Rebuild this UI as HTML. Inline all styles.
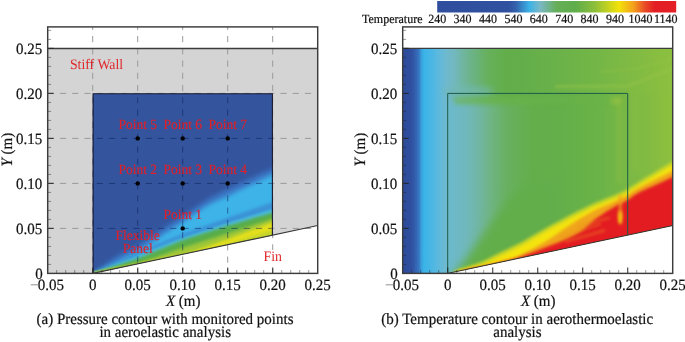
<!DOCTYPE html>
<html><head><meta charset="utf-8"><style>
html,body{margin:0;padding:0;background:#fff;}
svg{display:block;will-change:transform;}
text{font-family:"Liberation Serif",serif;text-rendering:geometricPrecision;}
text[fill="#111"]{stroke:#111;stroke-width:0.2px;}
</style></head><body>
<svg width="685" height="342" viewBox="0 0 685 342">
<defs><filter id="b1" filterUnits="userSpaceOnUse" x="0" y="0" width="685" height="342"><feGaussianBlur stdDeviation="1.0"/></filter><filter id="b15" filterUnits="userSpaceOnUse" x="0" y="0" width="685" height="342"><feGaussianBlur stdDeviation="1.5"/></filter><filter id="b2" filterUnits="userSpaceOnUse" x="0" y="0" width="685" height="342"><feGaussianBlur stdDeviation="2.0"/></filter><filter id="b3" filterUnits="userSpaceOnUse" x="0" y="0" width="685" height="342"><feGaussianBlur stdDeviation="3.0"/></filter><filter id="b5" filterUnits="userSpaceOnUse" x="0" y="0" width="685" height="342"><feGaussianBlur stdDeviation="5.0"/></filter><filter id="b8" filterUnits="userSpaceOnUse" x="0" y="0" width="685" height="342"><feGaussianBlur stdDeviation="8.0"/></filter><clipPath id="clipL"><polygon points="92.7,93.4 272.7,93.4 272.7,235.14 92.7,273.4"/></clipPath><clipPath id="clipR"><polygon points="402.7,48.4 672.7,48.4 672.7,225.57 447.7,273.4 402.7,273.4"/></clipPath><linearGradient id="hR" x1="402.7" y1="0" x2="672.7" y2="0" gradientUnits="userSpaceOnUse"><stop offset="0" stop-color="#2d4a9a"/><stop offset="0.03" stop-color="#2f4f9f"/><stop offset="0.04" stop-color="#3257a6"/><stop offset="0.06" stop-color="#3676c2"/><stop offset="0.07" stop-color="#3aa4de"/><stop offset="0.08" stop-color="#3bb4e8"/><stop offset="0.1" stop-color="#45b6e6"/><stop offset="0.13" stop-color="#5cb9de"/><stop offset="0.16" stop-color="#6eb9cf"/><stop offset="0.19" stop-color="#72b8c0"/><stop offset="0.22" stop-color="#70b6a2"/><stop offset="0.27" stop-color="#6ab27c"/><stop offset="0.32" stop-color="#66b05a"/><stop offset="0.38" stop-color="#63ae4b"/><stop offset="0.58" stop-color="#64af4a"/><stop offset="0.73" stop-color="#6ab348"/><stop offset="0.84" stop-color="#7ab845"/><stop offset="1" stop-color="#8ec03e"/></linearGradient><clipPath id="clipRin"><polygon points="447.7,93.4 672.7,93.4 672.7,225.57 447.7,273.4"/></clipPath><linearGradient id="tealG" x1="440" y1="0" x2="535" y2="0" gradientUnits="userSpaceOnUse"><stop offset="0" stop-color="#6cb9cc"/><stop offset="0.1" stop-color="#6cb9cc"/><stop offset="0.3" stop-color="#70b8bc" stop-opacity="0.95"/><stop offset="0.5" stop-color="#74b6a0" stop-opacity="0.7"/><stop offset="0.7" stop-color="#70b484" stop-opacity="0.4"/><stop offset="1" stop-color="#6cb270" stop-opacity="0"/></linearGradient><linearGradient id="topY" x1="520" y1="0" x2="672" y2="0" gradientUnits="userSpaceOnUse"><stop offset="0" stop-color="#84bc44" stop-opacity="0"/><stop offset="0.6" stop-color="#84bc44" stop-opacity="0.45"/><stop offset="1" stop-color="#8cc040" stop-opacity="0.3"/></linearGradient><clipPath id="cNB"><rect x="0" y="0" width="685" height="93.4"/><rect x="0" y="0" width="92.7" height="342"/><rect x="272.7" y="0" width="685" height="342"/><polygon points="92.7,273.4 272.7,235.14 272.7,342 92.7,342"/></clipPath><linearGradient id="cb" x1="0" y1="0" x2="1" y2="0"><stop offset="0" stop-color="#2f4f9e"/><stop offset="0.3" stop-color="#30519f"/><stop offset="0.33" stop-color="#3463ad"/><stop offset="0.385" stop-color="#3bb2e6"/><stop offset="0.43" stop-color="#7ab8c6"/><stop offset="0.5" stop-color="#66ae58"/><stop offset="0.58" stop-color="#5fad4a"/><stop offset="0.66" stop-color="#8dbf3a"/><stop offset="0.76" stop-color="#f2e20a"/><stop offset="0.82" stop-color="#f3a21c"/><stop offset="0.87" stop-color="#e84a26"/><stop offset="0.91" stop-color="#e31e24"/><stop offset="1" stop-color="#e31e24"/></linearGradient></defs>
<polygon points="47.7,48.4 317.7,48.4 317.7,225.57 92.7,273.4 47.7,273.4" fill="#d4d4d4"/>
<g clip-path="url(#clipL)"><rect x="92.7" y="93.4" width="180" height="180" fill="#34559e"/><polygon points="92.7,273.4 98.55,269.22 104.4,265.04 110.25,260.86 116.1,256.69 121.95,253.37 127.8,250.45 133.65,247.52 139.5,244.28 145.35,240.31 151.2,236.34 157.05,232.37 162.9,228.4 168.75,224.68 174.6,220.95 180.45,217.23 186.3,213.36 192.15,209.39 198,205.42 203.85,201.45 209.7,197.8 215.55,194.87 221.4,191.95 227.25,189.02 233.1,186.32 238.95,183.62 244.8,180.93 250.65,178.24 256.5,175.55 262.35,172.86 268.2,170.17 274.05,167.36 279.9,164.14 285.75,160.92 291.6,157.7 297.45,154.49 303.3,151.27 309.15,148.05 315,144.83 320.85,141.62 326.7,138.4 326.7,293.4 92.7,293.4" fill="#3a74c4" filter="url(#b2)"/><polygon points="92.7,273.4 98.55,270.68 104.4,267.97 110.25,265.25 116.1,262.54 121.95,259.67 127.8,256.75 133.65,253.82 139.5,250.58 145.35,246.61 151.2,242.64 157.05,238.67 162.9,234.7 168.75,230.98 174.6,227.25 180.45,223.53 186.3,219.66 192.15,215.69 198,211.72 203.85,207.75 209.7,204.18 215.55,201.52 221.4,198.86 227.25,196.2 233.1,193.41 238.95,190.6 244.8,187.79 250.65,184.98 256.5,182.18 262.35,179.37 268.2,176.56 274.05,173.68 279.9,170.56 285.75,167.44 291.6,164.32 297.45,161.2 303.3,158.08 309.15,154.96 315,151.84 320.85,148.72 326.7,145.6 326.7,293.4 92.7,293.4" fill="#3cb3e8" filter="url(#b2)"/><polygon points="119.7,260.44 124.88,257.96 130.05,255.47 135.22,252.99 140.4,250.72 145.57,248.65 150.75,246.58 155.93,244.51 161.1,242.44 166.28,240.37 171.45,238.3 176.62,236.23 181.8,234.16 186.98,232.28 192.15,230.44 197.32,228.59 202.5,226.75 207.68,224.91 212.85,223.07 218.02,221.22 223.2,219.38 228.38,217.55 233.55,215.76 238.73,213.97 243.9,212.17 249.07,210.38 254.25,208.59 259.43,206.8 264.6,205.01 269.78,203.22 274.95,201.43 280.12,199.62 285.3,197.82 290.48,196.02 295.65,194.22 300.82,192.41 306,190.61 311.18,188.81 316.35,187.01 321.52,185.2 326.7,183.4 326.7,190.6 321.52,192.39 316.35,194.17 311.18,195.96 306,197.74 300.82,199.53 295.65,201.31 290.48,203.1 285.3,204.88 280.12,206.67 274.95,208.45 269.78,210.17 264.6,211.84 259.43,213.5 254.25,215.17 249.07,216.84 243.9,218.5 238.73,220.17 233.55,221.84 228.38,223.5 223.2,225.15 218.02,226.8 212.85,228.44 207.68,230.09 202.5,231.73 197.32,233.38 192.15,235.02 186.98,236.67 181.8,238.38 176.62,240.37 171.45,242.37 166.28,244.37 161.1,246.37 155.93,248.37 150.75,250.36 145.57,252.36 140.4,254.36 135.22,256.39 130.05,258.46 124.88,260.53 119.7,262.6" fill="#3a92d6" filter="url(#b15)"/><polygon points="92.7,273.4 98.55,271.24 104.4,269.07 110.25,266.91 116.1,264.74 121.95,262.58 127.8,260.41 133.65,258.25 139.5,256.01 145.35,253.61 151.2,251.21 157.05,248.82 162.9,246.42 168.75,244.02 174.6,241.62 180.45,239.22 186.3,237.11 192.15,235.18 198,233.25 203.85,231.32 209.7,229.39 215.55,227.46 221.4,225.53 227.25,223.6 233.1,221.83 238.95,220.07 244.8,218.32 250.65,216.56 256.5,214.81 262.35,213.05 268.2,211.3 274.05,209.49 279.9,207.49 285.75,205.49 291.6,203.49 297.45,201.49 303.3,199.5 309.15,197.5 315,195.5 320.85,193.5 326.7,191.5 326.7,293.4 92.7,293.4" fill="#4cbadc" filter="url(#b1)"/><polygon points="92.7,273.4 98.55,271.47 104.4,269.54 110.25,267.61 116.1,265.68 121.95,263.75 127.8,261.82 133.65,259.89 139.5,257.81 145.35,255.41 151.2,253.01 157.05,250.62 162.9,248.22 168.75,245.82 174.6,243.42 180.45,241.02 186.3,238.95 192.15,237.08 198,235.2 203.85,233.33 209.7,231.46 215.55,229.59 221.4,227.72 227.25,225.84 233.1,224.13 238.95,222.44 244.8,220.74 250.65,219.04 256.5,217.35 262.35,215.65 268.2,213.95 274.05,212.21 279.9,210.31 285.75,208.41 291.6,206.51 297.45,204.61 303.3,202.7 309.15,200.8 315,198.9 320.85,197 326.7,195.1 326.7,293.4 92.7,293.4" fill="#58ad48" filter="url(#b15)"/><polygon points="92.7,273.4 98.55,272.16 104.4,270.92 110.25,269.68 116.1,268.44 121.95,267.2 127.8,265.96 133.65,264.72 139.5,263.21 145.35,261.11 151.2,259 157.05,256.89 162.9,254.79 168.75,252.68 174.6,250.58 180.45,248.47 186.3,246.52 192.15,244.65 198,242.79 203.85,240.93 209.7,239.07 215.55,237.21 221.4,235.35 227.25,233.49 233.1,231.57 238.95,229.64 244.8,227.71 250.65,225.78 256.5,223.85 262.35,221.92 268.2,219.98 274.05,218.07 279.9,216.22 285.75,214.37 291.6,212.51 297.45,210.66 303.3,208.81 309.15,206.96 315,205.1 320.85,203.25 326.7,201.4 326.7,293.4 92.7,293.4" fill="#9ec637" filter="url(#b15)"/><polygon points="92.7,273.4 98.55,272.2 104.4,271 110.25,269.8 116.1,268.6 121.95,267.4 127.8,266.2 133.65,265.01 139.5,263.81 145.35,262.61 151.2,261.41 157.05,260.21 162.9,259.01 168.75,257.81 174.6,256.61 180.45,255.41 186.3,253.69 192.15,251.64 198,249.59 203.85,247.55 209.7,245.5 215.55,243.45 221.4,241.34 227.25,239.14 233.1,236.95 238.95,234.76 244.8,232.56 250.65,230.37 256.5,228.17 262.35,225.98 268.2,223.79 274.05,221.69 279.9,219.94 285.75,218.18 291.6,216.43 297.45,214.67 303.3,212.92 309.15,211.16 315,209.41 320.85,207.65 326.7,205.9 326.7,293.4 92.7,293.4" fill="#e4df1c" filter="url(#b15)"/><polygon points="92.7,273.4 98.55,272.17 104.4,270.93 110.25,269.7 116.1,268.47 121.95,267.24 127.8,266 133.65,264.77 139.5,263.54 145.35,262.31 151.2,261.07 157.05,259.84 162.9,258.61 168.75,257.38 174.6,256.14 180.45,254.91 186.3,253.68 192.15,252.44 198,251.21 203.85,249.98 209.7,248.75 215.55,247.51 221.4,245.99 227.25,244.14 233.1,242.29 238.95,240.44 244.8,238.58 250.65,236.73 256.5,234.88 262.35,233.03 268.2,231.17 274.05,229.4 279.9,227.89 285.75,226.38 291.6,224.87 297.45,223.36 303.3,221.84 309.15,220.33 315,218.82 320.85,217.31 326.7,215.8 326.7,293.4 92.7,293.4" fill="#c4d42a" filter="url(#b15)"/></g>
<g clip-path="url(#clipR)"><rect x="402.7" y="48.4" width="270" height="225" fill="url(#hR)"/><ellipse cx="468" cy="91" rx="26" ry="5" fill="#72b8b4" opacity="0.7" filter="url(#b3)"/><rect x="520" y="48.4" width="160" height="45" fill="url(#topY)"/><polyline points="555,86.5 628,86 648,78 675,68" fill="none" stroke="#96c448" stroke-width="3" opacity="0.55" filter="url(#b15)"/><polyline points="600,72 640,68 675,58" fill="none" stroke="#96c448" stroke-width="2.5" opacity="0.35" filter="url(#b15)"/><rect x="632" y="92" width="6" height="80" fill="#96c444" opacity="0.35" filter="url(#b3)"/><g clip-path="url(#clipRin)"><rect x="420" y="102.4" width="110" height="180" fill="url(#tealG)" filter="url(#b3)"/><polygon points="449,282 455,273 468,256 482,236 495,218 508,200 530,180 560,180 560,282" fill="#62ae4b" filter="url(#b5)"/><polygon points="452,97 560,97 622,97 622,104 560,104 456,104.5" fill="#6ab548" opacity="0.55" filter="url(#b2)"/><ellipse cx="616" cy="101" rx="6" ry="4" fill="#a8c840" opacity="0.5" filter="url(#b2)"/><rect x="617" y="98" width="4" height="85" fill="#94c242" opacity="0.45" filter="url(#b2)"/></g><polygon points="453.1,271.55 459.04,269.52 464.98,267.49 470.92,265.46 476.86,263.42 482.8,261.24 488.74,258.19 494.68,255.13 500.62,252.27 506.56,249.43 512.5,246.58 518.44,243.73 524.38,240.56 530.32,237.08 536.26,233.61 542.2,230.13 548.14,226.73 554.08,223.56 560.02,220.4 565.96,217.23 571.9,214.06 577.84,211.09 583.78,208.21 589.72,205.33 595.66,202.5 601.6,200.13 607.54,197.76 613.48,195.38 619.42,192.97 625.36,190.22 631.3,186.46 637.24,182.63 643.18,179.06 649.12,175.5 655.06,171.93 661,168.37 666.94,164.81 672.88,161.25 678.82,157.98 684.76,154.72 690.7,151.45 690.7,293.4 453.1,293.4" fill="#c4d42a" filter="url(#b15)"/><polygon points="458.5,270.84 464.31,269.47 470.11,268.09 475.91,266.72 481.72,265.34 487.52,262.41 493.33,259.43 499.13,256.59 504.94,253.8 510.75,251.02 516.55,248.24 522.36,245.34 528.16,241.95 533.97,238.55 539.77,235.15 545.58,231.76 551.38,228.6 557.18,225.51 562.99,222.41 568.79,219.32 574.6,216.26 580.4,213.45 586.21,210.63 592.01,207.81 597.82,205.24 603.62,202.92 609.43,200.6 615.24,198.28 621.04,195.82 626.85,192.96 632.65,189.18 638.46,185.5 644.26,182.01 650.07,178.53 655.87,175.05 661.68,171.56 667.48,168.08 673.28,164.63 679.09,161.44 684.89,158.24 690.7,155.05 690.7,293.4 458.5,293.4" fill="#f4e30b" filter="url(#b15)"/><polygon points="458.5,270.98 464.31,269.69 470.11,268.39 475.91,267.09 481.72,265.79 487.52,264.38 493.33,262.97 499.13,261.56 504.94,260.15 510.75,258.73 516.55,256.95 522.36,253.93 528.16,250.91 533.97,247.89 539.77,244.81 545.58,241.62 551.38,237.72 557.18,233.66 562.99,229.6 568.79,225.75 574.6,221.99 580.4,218.27 586.21,214.97 592.01,211.67 597.82,208.73 603.62,206.19 609.43,203.65 615.24,201.12 621.04,198.43 626.85,195.37 632.65,191.5 638.46,187.92 644.26,185.02 650.07,182.12 655.87,179.21 661.68,176.31 667.48,173.41 673.28,170.48 679.09,167.29 684.89,164.09 690.7,160.9 690.7,293.4 458.5,293.4" fill="#f0a51c" filter="url(#b15)"/><polygon points="465.7,270.32 471.32,269.36 476.95,268.4 482.57,267.39 488.2,266.04 493.82,264.69 499.45,263.22 505.07,261.71 510.7,260.21 516.33,258.57 521.95,256.43 527.58,254.3 533.2,252.16 538.83,250 544.45,247.75 550.08,245.61 555.7,243.55 561.33,241.37 566.95,238.75 572.57,236.12 578.2,232.9 583.83,229.21 589.45,224.29 595.07,219.37 600.7,215.39 606.33,211.52 611.95,208.15 617.58,204.77 623.2,202.41 628.83,199.21 634.45,194.99 640.08,191.78 645.7,189.25 651.32,186.72 656.95,184.19 662.58,181.66 668.2,179.12 673.83,176.54 679.45,173.72 685.08,170.91 690.7,168.1 690.7,293.4 465.7,293.4" fill="#e31e24" filter="url(#b15)"/><line x1="560.2" y1="237.4" x2="600.7" y2="223.9" stroke="#ee8a20" stroke-width="2.5" opacity="0.45" filter="url(#b15)"/><line x1="564.7" y1="241.9" x2="605.2" y2="230.2" stroke="#ee8a20" stroke-width="2.5" opacity="0.45" filter="url(#b15)"/><line x1="578.2" y1="226.6" x2="609.7" y2="217.6" stroke="#ee8a20" stroke-width="2.5" opacity="0.45" filter="url(#b15)"/><ellipse cx="620.23" cy="217.6" rx="2.2" ry="7" fill="#f6d20e" filter="url(#b15)"/><rect x="618.73" y="195.1" width="3" height="22" fill="#f0a01c" opacity="0.8" filter="url(#b15)"/></g>
<g clip-path="url(#cNB)" stroke="#9a9a9a" stroke-width="1"><line x1="92.7" y1="26.9" x2="92.7" y2="273.4" stroke-dasharray="6.2 6.05" stroke-dashoffset="3.15"/><line x1="137.7" y1="26.9" x2="137.7" y2="273.4" stroke-dasharray="6.2 6.05" stroke-dashoffset="3.15"/><line x1="182.7" y1="26.9" x2="182.7" y2="273.4" stroke-dasharray="6.2 6.05" stroke-dashoffset="3.15"/><line x1="227.7" y1="26.9" x2="227.7" y2="273.4" stroke-dasharray="6.2 6.05" stroke-dashoffset="3.15"/><line x1="272.7" y1="26.9" x2="272.7" y2="273.4" stroke-dasharray="6.2 6.05" stroke-dashoffset="3.15"/><line x1="47.7" y1="228.4" x2="317.7" y2="228.4" stroke-dasharray="6.2 6.05"/><line x1="47.7" y1="183.4" x2="317.7" y2="183.4" stroke-dasharray="6.2 6.05"/><line x1="47.7" y1="138.4" x2="317.7" y2="138.4" stroke-dasharray="6.2 6.05"/><line x1="47.7" y1="93.4" x2="317.7" y2="93.4" stroke-dasharray="6.2 6.05"/></g>
<g clip-path="url(#clipL)" stroke="#0a1850" stroke-width="1" stroke-opacity="0.5"><line x1="92.7" y1="26.9" x2="92.7" y2="273.4" stroke-dasharray="6.2 6.05" stroke-dashoffset="3.15"/><line x1="137.7" y1="26.9" x2="137.7" y2="273.4" stroke-dasharray="6.2 6.05" stroke-dashoffset="3.15"/><line x1="182.7" y1="26.9" x2="182.7" y2="273.4" stroke-dasharray="6.2 6.05" stroke-dashoffset="3.15"/><line x1="227.7" y1="26.9" x2="227.7" y2="273.4" stroke-dasharray="6.2 6.05" stroke-dashoffset="3.15"/><line x1="272.7" y1="26.9" x2="272.7" y2="273.4" stroke-dasharray="6.2 6.05" stroke-dashoffset="3.15"/><line x1="47.7" y1="228.4" x2="317.7" y2="228.4" stroke-dasharray="6.2 6.05"/><line x1="47.7" y1="183.4" x2="317.7" y2="183.4" stroke-dasharray="6.2 6.05"/><line x1="47.7" y1="138.4" x2="317.7" y2="138.4" stroke-dasharray="6.2 6.05"/><line x1="47.7" y1="93.4" x2="317.7" y2="93.4" stroke-dasharray="6.2 6.05"/></g>
<line x1="47.7" y1="48.4" x2="317.7" y2="48.4" stroke="#3c3c3c" stroke-width="1.5"/>
<polyline points="93.1,273.4 93.1,93.7 272.4,93.7 272.4,235.14" fill="none" stroke="#1a1a30" stroke-width="1.1"/>
<line x1="92.7" y1="273.4" x2="317.7" y2="225.57" stroke="#3a3a3a" stroke-width="1.1"/>
<line x1="56.7" y1="273.4" x2="56.7" y2="270" stroke="#222" stroke-width="1" stroke-opacity="0.45"/>
<line x1="65.7" y1="273.4" x2="65.7" y2="270" stroke="#222" stroke-width="1" stroke-opacity="0.45"/>
<line x1="74.7" y1="273.4" x2="74.7" y2="270" stroke="#222" stroke-width="1" stroke-opacity="0.45"/>
<line x1="83.7" y1="273.4" x2="83.7" y2="270" stroke="#222" stroke-width="1" stroke-opacity="0.45"/>
<line x1="92.7" y1="273.4" x2="92.7" y2="267.4" stroke="#222" stroke-width="1.2" stroke-opacity="0.8"/>
<line x1="101.7" y1="273.4" x2="101.7" y2="270" stroke="#222" stroke-width="1" stroke-opacity="0.45"/>
<line x1="110.7" y1="273.4" x2="110.7" y2="270" stroke="#222" stroke-width="1" stroke-opacity="0.45"/>
<line x1="119.7" y1="273.4" x2="119.7" y2="270" stroke="#222" stroke-width="1" stroke-opacity="0.45"/>
<line x1="128.7" y1="273.4" x2="128.7" y2="270" stroke="#222" stroke-width="1" stroke-opacity="0.45"/>
<line x1="137.7" y1="273.4" x2="137.7" y2="267.4" stroke="#222" stroke-width="1.2" stroke-opacity="0.8"/>
<line x1="146.7" y1="273.4" x2="146.7" y2="270" stroke="#222" stroke-width="1" stroke-opacity="0.45"/>
<line x1="155.7" y1="273.4" x2="155.7" y2="270" stroke="#222" stroke-width="1" stroke-opacity="0.45"/>
<line x1="164.7" y1="273.4" x2="164.7" y2="270" stroke="#222" stroke-width="1" stroke-opacity="0.45"/>
<line x1="173.7" y1="273.4" x2="173.7" y2="270" stroke="#222" stroke-width="1" stroke-opacity="0.45"/>
<line x1="182.7" y1="273.4" x2="182.7" y2="267.4" stroke="#222" stroke-width="1.2" stroke-opacity="0.8"/>
<line x1="191.7" y1="273.4" x2="191.7" y2="270" stroke="#222" stroke-width="1" stroke-opacity="0.45"/>
<line x1="200.7" y1="273.4" x2="200.7" y2="270" stroke="#222" stroke-width="1" stroke-opacity="0.45"/>
<line x1="209.7" y1="273.4" x2="209.7" y2="270" stroke="#222" stroke-width="1" stroke-opacity="0.45"/>
<line x1="218.7" y1="273.4" x2="218.7" y2="270" stroke="#222" stroke-width="1" stroke-opacity="0.45"/>
<line x1="227.7" y1="273.4" x2="227.7" y2="267.4" stroke="#222" stroke-width="1.2" stroke-opacity="0.8"/>
<line x1="236.7" y1="273.4" x2="236.7" y2="270" stroke="#222" stroke-width="1" stroke-opacity="0.45"/>
<line x1="245.7" y1="273.4" x2="245.7" y2="270" stroke="#222" stroke-width="1" stroke-opacity="0.45"/>
<line x1="254.7" y1="273.4" x2="254.7" y2="270" stroke="#222" stroke-width="1" stroke-opacity="0.45"/>
<line x1="263.7" y1="273.4" x2="263.7" y2="270" stroke="#222" stroke-width="1" stroke-opacity="0.45"/>
<line x1="272.7" y1="273.4" x2="272.7" y2="267.4" stroke="#222" stroke-width="1.2" stroke-opacity="0.8"/>
<line x1="281.7" y1="273.4" x2="281.7" y2="270" stroke="#222" stroke-width="1" stroke-opacity="0.45"/>
<line x1="290.7" y1="273.4" x2="290.7" y2="270" stroke="#222" stroke-width="1" stroke-opacity="0.45"/>
<line x1="299.7" y1="273.4" x2="299.7" y2="270" stroke="#222" stroke-width="1" stroke-opacity="0.45"/>
<line x1="308.7" y1="273.4" x2="308.7" y2="270" stroke="#222" stroke-width="1" stroke-opacity="0.45"/>
<line x1="47.7" y1="264.4" x2="51.1" y2="264.4" stroke="#222" stroke-width="1" stroke-opacity="0.45"/>
<line x1="47.7" y1="255.4" x2="51.1" y2="255.4" stroke="#222" stroke-width="1" stroke-opacity="0.45"/>
<line x1="47.7" y1="246.4" x2="51.1" y2="246.4" stroke="#222" stroke-width="1" stroke-opacity="0.45"/>
<line x1="47.7" y1="237.4" x2="51.1" y2="237.4" stroke="#222" stroke-width="1" stroke-opacity="0.45"/>
<line x1="47.7" y1="228.4" x2="53.7" y2="228.4" stroke="#222" stroke-width="1.2" stroke-opacity="0.8"/>
<line x1="47.7" y1="219.4" x2="51.1" y2="219.4" stroke="#222" stroke-width="1" stroke-opacity="0.45"/>
<line x1="47.7" y1="210.4" x2="51.1" y2="210.4" stroke="#222" stroke-width="1" stroke-opacity="0.45"/>
<line x1="47.7" y1="201.4" x2="51.1" y2="201.4" stroke="#222" stroke-width="1" stroke-opacity="0.45"/>
<line x1="47.7" y1="192.4" x2="51.1" y2="192.4" stroke="#222" stroke-width="1" stroke-opacity="0.45"/>
<line x1="47.7" y1="183.4" x2="53.7" y2="183.4" stroke="#222" stroke-width="1.2" stroke-opacity="0.8"/>
<line x1="47.7" y1="174.4" x2="51.1" y2="174.4" stroke="#222" stroke-width="1" stroke-opacity="0.45"/>
<line x1="47.7" y1="165.4" x2="51.1" y2="165.4" stroke="#222" stroke-width="1" stroke-opacity="0.45"/>
<line x1="47.7" y1="156.4" x2="51.1" y2="156.4" stroke="#222" stroke-width="1" stroke-opacity="0.45"/>
<line x1="47.7" y1="147.4" x2="51.1" y2="147.4" stroke="#222" stroke-width="1" stroke-opacity="0.45"/>
<line x1="47.7" y1="138.4" x2="53.7" y2="138.4" stroke="#222" stroke-width="1.2" stroke-opacity="0.8"/>
<line x1="47.7" y1="129.4" x2="51.1" y2="129.4" stroke="#222" stroke-width="1" stroke-opacity="0.45"/>
<line x1="47.7" y1="120.4" x2="51.1" y2="120.4" stroke="#222" stroke-width="1" stroke-opacity="0.45"/>
<line x1="47.7" y1="111.4" x2="51.1" y2="111.4" stroke="#222" stroke-width="1" stroke-opacity="0.45"/>
<line x1="47.7" y1="102.4" x2="51.1" y2="102.4" stroke="#222" stroke-width="1" stroke-opacity="0.45"/>
<line x1="47.7" y1="93.4" x2="53.7" y2="93.4" stroke="#222" stroke-width="1.2" stroke-opacity="0.8"/>
<line x1="47.7" y1="84.4" x2="51.1" y2="84.4" stroke="#222" stroke-width="1" stroke-opacity="0.45"/>
<line x1="47.7" y1="75.4" x2="51.1" y2="75.4" stroke="#222" stroke-width="1" stroke-opacity="0.45"/>
<line x1="47.7" y1="66.4" x2="51.1" y2="66.4" stroke="#222" stroke-width="1" stroke-opacity="0.45"/>
<line x1="47.7" y1="57.4" x2="51.1" y2="57.4" stroke="#222" stroke-width="1" stroke-opacity="0.45"/>
<line x1="47.7" y1="48.4" x2="53.7" y2="48.4" stroke="#222" stroke-width="1.2" stroke-opacity="0.8"/>
<line x1="47.7" y1="39.4" x2="51.1" y2="39.4" stroke="#222" stroke-width="1" stroke-opacity="0.45"/>
<line x1="47.7" y1="30.4" x2="51.1" y2="30.4" stroke="#222" stroke-width="1" stroke-opacity="0.45"/>
<rect x="47.7" y="26.9" width="270" height="246.5" fill="none" stroke="#3c3c3c" stroke-width="1.45"/>
<text transform="translate(37.8,290) scale(1,1.05)" font-size="15" text-anchor="start" fill="#111">0.05</text>
<line x1="30.7" y1="284.8" x2="38.5" y2="284.8" stroke="#9a9a9a" stroke-width="1.1"/>
<text transform="translate(92.7,290) scale(1,1.05)" font-size="15" text-anchor="middle" fill="#111">0</text>
<text transform="translate(137.7,290) scale(1,1.05)" font-size="15" text-anchor="middle" fill="#111">0.05</text>
<text transform="translate(182.7,290) scale(1,1.05)" font-size="15" text-anchor="middle" fill="#111">0.10</text>
<text transform="translate(227.7,290) scale(1,1.05)" font-size="15" text-anchor="middle" fill="#111">0.15</text>
<text transform="translate(272.7,290) scale(1,1.05)" font-size="15" text-anchor="middle" fill="#111">0.20</text>
<text transform="translate(317.7,290) scale(1,1.05)" font-size="15" text-anchor="middle" fill="#111">0.25</text>
<text transform="translate(42.2,233.6) scale(1,1.05)" font-size="15" text-anchor="end" fill="#111">0.05</text>
<text transform="translate(42.2,188.6) scale(1,1.05)" font-size="15" text-anchor="end" fill="#111">0.10</text>
<text transform="translate(42.2,143.6) scale(1,1.05)" font-size="15" text-anchor="end" fill="#111">0.15</text>
<text transform="translate(42.2,98.6) scale(1,1.05)" font-size="15" text-anchor="end" fill="#111">0.20</text>
<text transform="translate(42.2,53.6) scale(1,1.05)" font-size="15" text-anchor="end" fill="#111">0.25</text>
<text transform="translate(42.7,278.9) scale(1,1.05)" font-size="15" text-anchor="end" fill="#111">0</text>
<text transform="translate(183.2,305.6) scale(1,1.05)" font-size="15" text-anchor="middle" fill="#111"><tspan font-style="italic">X</tspan> (m)</text>
<text x="0" y="0" font-size="15" text-anchor="middle" fill="#111" transform="translate(12.2,149.7) rotate(-90) scale(1,1.05)"><tspan font-style="italic">Y</tspan> (m)</text>
<circle cx="137.7" cy="138.4" r="2.2" fill="#000"/>
<text transform="translate(137.7,129.1) scale(1,1.05)" font-size="13.5" text-anchor="middle" fill="#e0202a" stroke="#e0202a" stroke-width="0.15">Point 5</text>
<circle cx="182.7" cy="138.4" r="2.2" fill="#000"/>
<text transform="translate(182.7,129.1) scale(1,1.05)" font-size="13.5" text-anchor="middle" fill="#e0202a" stroke="#e0202a" stroke-width="0.15">Point 6</text>
<circle cx="227.7" cy="138.4" r="2.2" fill="#000"/>
<text transform="translate(227.7,129.1) scale(1,1.05)" font-size="13.5" text-anchor="middle" fill="#e0202a" stroke="#e0202a" stroke-width="0.15">Point 7</text>
<circle cx="137.7" cy="183.4" r="2.2" fill="#000"/>
<text transform="translate(137.7,174.1) scale(1,1.05)" font-size="13.5" text-anchor="middle" fill="#e0202a" stroke="#e0202a" stroke-width="0.15">Point 2</text>
<circle cx="182.7" cy="183.4" r="2.2" fill="#000"/>
<text transform="translate(182.7,174.1) scale(1,1.05)" font-size="13.5" text-anchor="middle" fill="#e0202a" stroke="#e0202a" stroke-width="0.15">Point 3</text>
<circle cx="227.7" cy="183.4" r="2.2" fill="#000"/>
<text transform="translate(227.7,174.1) scale(1,1.05)" font-size="13.5" text-anchor="middle" fill="#e0202a" stroke="#e0202a" stroke-width="0.15">Point 4</text>
<circle cx="182.7" cy="228.4" r="2.2" fill="#000"/>
<text transform="translate(182.7,219.1) scale(1,1.05)" font-size="13.5" text-anchor="middle" fill="#e0202a" stroke="#e0202a" stroke-width="0.15">Point 1</text>
<text transform="translate(137.7,239.9) scale(1,1.05)" font-size="13.5" text-anchor="middle" fill="#e0202a" stroke="#e0202a" stroke-width="0.15">Flexible</text>
<text transform="translate(137.7,252.6) scale(1,1.05)" font-size="13.5" text-anchor="middle" fill="#e0202a" stroke="#e0202a" stroke-width="0.15">Panel</text>
<text transform="translate(69.9,68.8) scale(1,1.05)" font-size="13.8" text-anchor="start" fill="#e0262a">Stiff Wall</text>
<rect x="263" y="250" width="19" height="13" fill="#fff"/>
<text transform="translate(263.6,260.7) scale(1,1.05)" font-size="13.8" text-anchor="start" fill="#e0262a">Fin</text>
<line x1="402.7" y1="48.4" x2="672.7" y2="48.4" stroke="#3c3c3c" stroke-width="1.2"/>
<polyline points="447.7,273.4 447.7,93.4 627.7,93.4 627.7,235.14" fill="none" stroke="#1a5a48" stroke-width="1"/>
<line x1="447.7" y1="273.4" x2="672.7" y2="225.57" stroke="#333" stroke-width="1"/>
<line x1="411.7" y1="273.4" x2="411.7" y2="270" stroke="#222" stroke-width="1" stroke-opacity="0.45"/>
<line x1="420.7" y1="273.4" x2="420.7" y2="270" stroke="#222" stroke-width="1" stroke-opacity="0.45"/>
<line x1="429.7" y1="273.4" x2="429.7" y2="270" stroke="#222" stroke-width="1" stroke-opacity="0.45"/>
<line x1="438.7" y1="273.4" x2="438.7" y2="270" stroke="#222" stroke-width="1" stroke-opacity="0.45"/>
<line x1="447.7" y1="273.4" x2="447.7" y2="267.4" stroke="#222" stroke-width="1.2" stroke-opacity="0.8"/>
<line x1="456.7" y1="273.4" x2="456.7" y2="270" stroke="#222" stroke-width="1" stroke-opacity="0.45"/>
<line x1="465.7" y1="273.4" x2="465.7" y2="270" stroke="#222" stroke-width="1" stroke-opacity="0.45"/>
<line x1="474.7" y1="273.4" x2="474.7" y2="270" stroke="#222" stroke-width="1" stroke-opacity="0.45"/>
<line x1="483.7" y1="273.4" x2="483.7" y2="270" stroke="#222" stroke-width="1" stroke-opacity="0.45"/>
<line x1="492.7" y1="273.4" x2="492.7" y2="267.4" stroke="#222" stroke-width="1.2" stroke-opacity="0.8"/>
<line x1="501.7" y1="273.4" x2="501.7" y2="270" stroke="#222" stroke-width="1" stroke-opacity="0.45"/>
<line x1="510.7" y1="273.4" x2="510.7" y2="270" stroke="#222" stroke-width="1" stroke-opacity="0.45"/>
<line x1="519.7" y1="273.4" x2="519.7" y2="270" stroke="#222" stroke-width="1" stroke-opacity="0.45"/>
<line x1="528.7" y1="273.4" x2="528.7" y2="270" stroke="#222" stroke-width="1" stroke-opacity="0.45"/>
<line x1="537.7" y1="273.4" x2="537.7" y2="267.4" stroke="#222" stroke-width="1.2" stroke-opacity="0.8"/>
<line x1="546.7" y1="273.4" x2="546.7" y2="270" stroke="#222" stroke-width="1" stroke-opacity="0.45"/>
<line x1="555.7" y1="273.4" x2="555.7" y2="270" stroke="#222" stroke-width="1" stroke-opacity="0.45"/>
<line x1="564.7" y1="273.4" x2="564.7" y2="270" stroke="#222" stroke-width="1" stroke-opacity="0.45"/>
<line x1="573.7" y1="273.4" x2="573.7" y2="270" stroke="#222" stroke-width="1" stroke-opacity="0.45"/>
<line x1="582.7" y1="273.4" x2="582.7" y2="267.4" stroke="#222" stroke-width="1.2" stroke-opacity="0.8"/>
<line x1="591.7" y1="273.4" x2="591.7" y2="270" stroke="#222" stroke-width="1" stroke-opacity="0.45"/>
<line x1="600.7" y1="273.4" x2="600.7" y2="270" stroke="#222" stroke-width="1" stroke-opacity="0.45"/>
<line x1="609.7" y1="273.4" x2="609.7" y2="270" stroke="#222" stroke-width="1" stroke-opacity="0.45"/>
<line x1="618.7" y1="273.4" x2="618.7" y2="270" stroke="#222" stroke-width="1" stroke-opacity="0.45"/>
<line x1="627.7" y1="273.4" x2="627.7" y2="267.4" stroke="#222" stroke-width="1.2" stroke-opacity="0.8"/>
<line x1="636.7" y1="273.4" x2="636.7" y2="270" stroke="#222" stroke-width="1" stroke-opacity="0.45"/>
<line x1="645.7" y1="273.4" x2="645.7" y2="270" stroke="#222" stroke-width="1" stroke-opacity="0.45"/>
<line x1="654.7" y1="273.4" x2="654.7" y2="270" stroke="#222" stroke-width="1" stroke-opacity="0.45"/>
<line x1="663.7" y1="273.4" x2="663.7" y2="270" stroke="#222" stroke-width="1" stroke-opacity="0.45"/>
<line x1="402.7" y1="264.4" x2="406.1" y2="264.4" stroke="#222" stroke-width="1" stroke-opacity="0.45"/>
<line x1="402.7" y1="255.4" x2="406.1" y2="255.4" stroke="#222" stroke-width="1" stroke-opacity="0.45"/>
<line x1="402.7" y1="246.4" x2="406.1" y2="246.4" stroke="#222" stroke-width="1" stroke-opacity="0.45"/>
<line x1="402.7" y1="237.4" x2="406.1" y2="237.4" stroke="#222" stroke-width="1" stroke-opacity="0.45"/>
<line x1="402.7" y1="228.4" x2="408.7" y2="228.4" stroke="#222" stroke-width="1.2" stroke-opacity="0.8"/>
<line x1="402.7" y1="219.4" x2="406.1" y2="219.4" stroke="#222" stroke-width="1" stroke-opacity="0.45"/>
<line x1="402.7" y1="210.4" x2="406.1" y2="210.4" stroke="#222" stroke-width="1" stroke-opacity="0.45"/>
<line x1="402.7" y1="201.4" x2="406.1" y2="201.4" stroke="#222" stroke-width="1" stroke-opacity="0.45"/>
<line x1="402.7" y1="192.4" x2="406.1" y2="192.4" stroke="#222" stroke-width="1" stroke-opacity="0.45"/>
<line x1="402.7" y1="183.4" x2="408.7" y2="183.4" stroke="#222" stroke-width="1.2" stroke-opacity="0.8"/>
<line x1="402.7" y1="174.4" x2="406.1" y2="174.4" stroke="#222" stroke-width="1" stroke-opacity="0.45"/>
<line x1="402.7" y1="165.4" x2="406.1" y2="165.4" stroke="#222" stroke-width="1" stroke-opacity="0.45"/>
<line x1="402.7" y1="156.4" x2="406.1" y2="156.4" stroke="#222" stroke-width="1" stroke-opacity="0.45"/>
<line x1="402.7" y1="147.4" x2="406.1" y2="147.4" stroke="#222" stroke-width="1" stroke-opacity="0.45"/>
<line x1="402.7" y1="138.4" x2="408.7" y2="138.4" stroke="#222" stroke-width="1.2" stroke-opacity="0.8"/>
<line x1="402.7" y1="129.4" x2="406.1" y2="129.4" stroke="#222" stroke-width="1" stroke-opacity="0.45"/>
<line x1="402.7" y1="120.4" x2="406.1" y2="120.4" stroke="#222" stroke-width="1" stroke-opacity="0.45"/>
<line x1="402.7" y1="111.4" x2="406.1" y2="111.4" stroke="#222" stroke-width="1" stroke-opacity="0.45"/>
<line x1="402.7" y1="102.4" x2="406.1" y2="102.4" stroke="#222" stroke-width="1" stroke-opacity="0.45"/>
<line x1="402.7" y1="93.4" x2="408.7" y2="93.4" stroke="#222" stroke-width="1.2" stroke-opacity="0.8"/>
<line x1="402.7" y1="84.4" x2="406.1" y2="84.4" stroke="#222" stroke-width="1" stroke-opacity="0.45"/>
<line x1="402.7" y1="75.4" x2="406.1" y2="75.4" stroke="#222" stroke-width="1" stroke-opacity="0.45"/>
<line x1="402.7" y1="66.4" x2="406.1" y2="66.4" stroke="#222" stroke-width="1" stroke-opacity="0.45"/>
<line x1="402.7" y1="57.4" x2="406.1" y2="57.4" stroke="#222" stroke-width="1" stroke-opacity="0.45"/>
<line x1="402.7" y1="48.4" x2="408.7" y2="48.4" stroke="#222" stroke-width="1.2" stroke-opacity="0.8"/>
<line x1="402.7" y1="39.4" x2="406.1" y2="39.4" stroke="#222" stroke-width="1" stroke-opacity="0.45"/>
<line x1="402.7" y1="30.4" x2="406.1" y2="30.4" stroke="#222" stroke-width="1" stroke-opacity="0.45"/>
<rect x="402.7" y="26.9" width="270" height="246.5" fill="none" stroke="#3c3c3c" stroke-width="1.45"/>
<text transform="translate(392.8,290) scale(1,1.05)" font-size="15" text-anchor="start" fill="#111">0.05</text>
<line x1="385.7" y1="284.8" x2="393.5" y2="284.8" stroke="#9a9a9a" stroke-width="1.1"/>
<text transform="translate(447.7,290) scale(1,1.05)" font-size="15" text-anchor="middle" fill="#111">0</text>
<text transform="translate(492.7,290) scale(1,1.05)" font-size="15" text-anchor="middle" fill="#111">0.05</text>
<text transform="translate(537.7,290) scale(1,1.05)" font-size="15" text-anchor="middle" fill="#111">0.10</text>
<text transform="translate(582.7,290) scale(1,1.05)" font-size="15" text-anchor="middle" fill="#111">0.15</text>
<text transform="translate(627.7,290) scale(1,1.05)" font-size="15" text-anchor="middle" fill="#111">0.20</text>
<text transform="translate(672.7,290) scale(1,1.05)" font-size="15" text-anchor="middle" fill="#111">0.25</text>
<text transform="translate(397.2,233.6) scale(1,1.05)" font-size="15" text-anchor="end" fill="#111">0.05</text>
<text transform="translate(397.2,188.6) scale(1,1.05)" font-size="15" text-anchor="end" fill="#111">0.10</text>
<text transform="translate(397.2,143.6) scale(1,1.05)" font-size="15" text-anchor="end" fill="#111">0.15</text>
<text transform="translate(397.2,98.6) scale(1,1.05)" font-size="15" text-anchor="end" fill="#111">0.20</text>
<text transform="translate(397.2,53.6) scale(1,1.05)" font-size="15" text-anchor="end" fill="#111">0.25</text>
<text transform="translate(397.7,278.9) scale(1,1.05)" font-size="15" text-anchor="end" fill="#111">0</text>
<text transform="translate(538.2,305.6) scale(1,1.05)" font-size="15" text-anchor="middle" fill="#111"><tspan font-style="italic">X</tspan> (m)</text>
<text x="0" y="0" font-size="15" text-anchor="middle" fill="#111" transform="translate(364.9,149.7) rotate(-90) scale(1,1.05)"><tspan font-style="italic">Y</tspan> (m)</text>
<rect x="437.2" y="1" width="239" height="11.5" fill="url(#cb)"/>
<text transform="translate(362,22.8) scale(1,1.05)" font-size="12" text-anchor="start" fill="#111">Temperature</text>
<text transform="translate(437.2,22.8) scale(1,1.05)" font-size="12" text-anchor="middle" fill="#111">240</text>
<text transform="translate(462.6,22.8) scale(1,1.05)" font-size="12" text-anchor="middle" fill="#111">340</text>
<text transform="translate(488,22.8) scale(1,1.05)" font-size="12" text-anchor="middle" fill="#111">440</text>
<text transform="translate(513.4,22.8) scale(1,1.05)" font-size="12" text-anchor="middle" fill="#111">540</text>
<text transform="translate(538.8,22.8) scale(1,1.05)" font-size="12" text-anchor="middle" fill="#111">640</text>
<text transform="translate(564.2,22.8) scale(1,1.05)" font-size="12" text-anchor="middle" fill="#111">740</text>
<text transform="translate(589.6,22.8) scale(1,1.05)" font-size="12" text-anchor="middle" fill="#111">840</text>
<text transform="translate(615,22.8) scale(1,1.05)" font-size="12" text-anchor="middle" fill="#111">940</text>
<text transform="translate(640.4,22.8) scale(1,1.05)" font-size="12" text-anchor="middle" fill="#111">1040</text>
<text transform="translate(665.8,22.8) scale(1,1.05)" font-size="12" text-anchor="middle" fill="#111">1140</text>
<text transform="translate(165,324.2) scale(1,1.05)" font-size="15" text-anchor="middle" fill="#111">(a) Pressure contour with monitored points</text>
<text transform="translate(165.2,337.2) scale(1,1.05)" font-size="15" text-anchor="middle" fill="#111">in aeroelastic analysis</text>
<text transform="translate(517.2,324.2) scale(1,1.05)" font-size="15" text-anchor="middle" fill="#111">(b) Temperature contour in aerothermoelastic</text>
<text transform="translate(517.4,337.4) scale(1,1.05)" font-size="15" text-anchor="middle" fill="#111">analysis</text>
</svg></body></html>
